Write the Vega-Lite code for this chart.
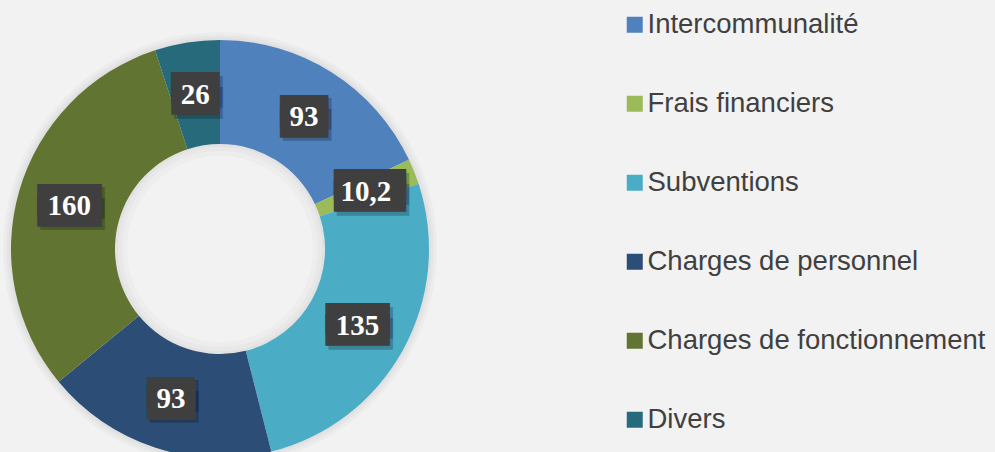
{
  "$schema": "https://vega.github.io/schema/vega-lite/v6.json",
  "autosize": {"type": "none"},
  "padding": {"left": 0, "top": 46, "right": 555, "bottom": 0},
  "width": 440,
  "height": 406,
  "background": "#F2F2F2",
  "config": {
    "view": {"stroke": null},
    "locale": {"number": {"decimal": ",", "thousands": "\u00a0", "grouping": [3], "currency": ["", "\u00a0€"]}}
  },
  "data": {
    "values": [
      {"categorie": "Intercommunalité", "valeur": 93, "ordre": 1},
      {"categorie": "Frais financiers", "valeur": 10.2, "ordre": 2},
      {"categorie": "Subventions", "valeur": 135, "ordre": 3},
      {"categorie": "Charges de personnel", "valeur": 93, "ordre": 4},
      {"categorie": "Charges de fonctionnement", "valeur": 160, "ordre": 5},
      {"categorie": "Divers", "valeur": 26, "ordre": 6}
    ]
  },
  "transform": [
    {"calculate": "length(toString(datum.valeur)) > 3 ? '▐████' : length(toString(datum.valeur)) > 2 ? '████' : '███'", "as": "boite"}
  ],
  "encoding": {
    "theta": {"field": "valeur", "type": "quantitative", "stack": true},
    "order": {"field": "ordre", "type": "quantitative", "sort": "ascending"}
  },
  "layer": [
    {"mark": {"type": "arc", "outerRadius": 217, "innerRadius": 205, "color": "#000000", "opacity": 0.025}},
    {"mark": {"type": "arc", "outerRadius": 214, "innerRadius": 205, "color": "#000000", "opacity": 0.025}},
    {"mark": {"type": "arc", "outerRadius": 211.5, "innerRadius": 205, "color": "#000000", "opacity": 0.025}},
    {
      "mark": {"type": "arc", "outerRadius": 209, "innerRadius": 105},
      "encoding": {
        "color": {
          "field": "categorie",
          "type": "nominal",
          "scale": {
            "domain": ["Intercommunalité", "Frais financiers", "Subventions", "Charges de personnel", "Charges de fonctionnement", "Divers"],
            "range": ["#4F81BD", "#9BBB59", "#4BACC6", "#2C4D75", "#617432", "#276A7C"]
          },
          "legend": {
            "title": null,
            "orient": "none",
            "legendX": 621,
            "legendY": -35,
            "padding": 0,
            "symbolType": "square",
            "symbolSize": 256,
            "symbolStrokeWidth": 0,
            "symbolOpacity": 1,
            "labelFont": "Liberation Sans",
            "labelFontSize": 27.5,
            "labelColor": "#404040",
            "labelOffset": -1,
            "labelLimit": 400,
            "rowPadding": 50
          }
        }
      }
    },
    {"mark": {"type": "arc", "outerRadius": 105, "innerRadius": 93, "color": "#000000", "opacity": 0.02}},
    {"mark": {"type": "arc", "outerRadius": 105, "innerRadius": 98, "color": "#000000", "opacity": 0.02}},
    {"mark": {"type": "arc", "outerRadius": 105, "innerRadius": 102, "color": "#000000", "opacity": 0.025}},
    {
      "mark": {"type": "text", "font": "DejaVu Sans Mono", "fontSize": 26.6, "color": "#000000", "opacity": 0.22, "baseline": "middle", "align": "center", "dx": 3, "dy": -1},
      "encoding": {"radius": {"value": 157}, "text": {"field": "boite", "type": "nominal"}}
    },
    {
      "mark": {"type": "text", "font": "DejaVu Sans Mono", "fontSize": 26.6, "color": "#000000", "opacity": 0.22, "baseline": "middle", "align": "center", "dx": 3, "dy": 10},
      "encoding": {"radius": {"value": 157}, "text": {"field": "boite", "type": "nominal"}}
    },
    {
      "mark": {"type": "text", "font": "DejaVu Sans Mono", "fontSize": 26.6, "color": "#3F3F3F", "baseline": "middle", "align": "center", "dy": -4.5},
      "encoding": {"radius": {"value": 157}, "text": {"field": "boite", "type": "nominal"}}
    },
    {
      "mark": {"type": "text", "font": "DejaVu Sans Mono", "fontSize": 26.6, "color": "#3F3F3F", "baseline": "middle", "align": "center", "dy": 6.5},
      "encoding": {"radius": {"value": 157}, "text": {"field": "boite", "type": "nominal"}}
    },
    {
      "mark": {"type": "text", "font": "Liberation Serif", "fontWeight": "bold", "fontSize": 29, "color": "#FFFFFF", "baseline": "middle", "align": "center", "dy": 1},
      "encoding": {"radius": {"value": 157}, "text": {"field": "valeur", "type": "quantitative", "format": "~g"}}
    }
  ]
}
